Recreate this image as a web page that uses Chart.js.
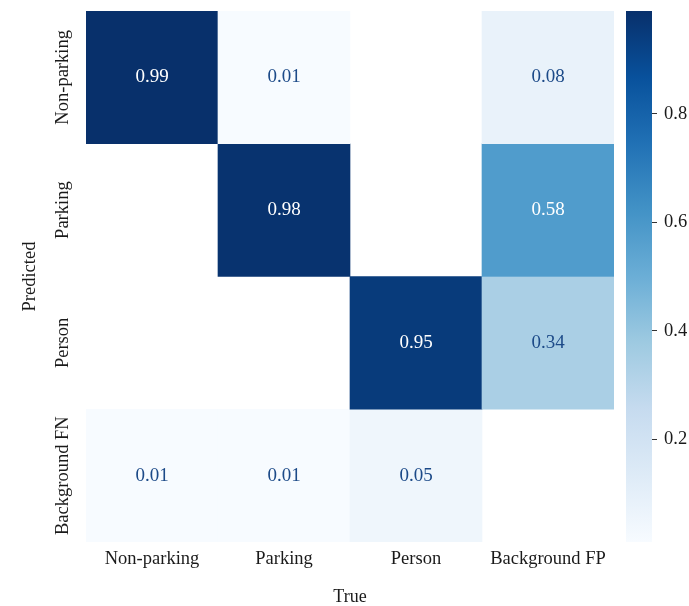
<!DOCTYPE html>
<html>
<head>
<meta charset="utf-8">
<script src="https://cdn.jsdelivr.net/npm/chart.js@4"></script>
<style>
  html, body { margin: 0; padding: 0; background: #fff; overflow: hidden; }
  body { width: 689px; height: 606px; position: relative; }
  #cm { position: absolute; left: 0; top: 0; }
  #cbar { position: absolute; left: 620px; top: 0; }
</style>
</head>
<body>
<canvas id="cm" width="622" height="606"></canvas>
<canvas id="cbar" width="100" height="606"></canvas>
<script>
// confusion matrix (rows = predicted, cols = true)
const trueLabels = ["Non-parking", "Parking", "Person", "Background FP"];
const predictedLabels = ["Non-parking", "Parking", "Person", "Background FN"];
const rowNonParking = [0.99, 0.01, 0, 0.08];
const rowParking = [0, 0.98, 0, 0.58];
const rowPerson = [0, 0, 0.95, 0.34];
const rowBackgroundFN = [0.01, 0.01, 0.05, 0];
const colorbarTicks = [0.2, 0.4, 0.6, 0.8];

const rows = [rowNonParking, rowParking, rowPerson, rowBackgroundFN];
const shown = rows.flat().filter(v => v > 0);
const vmax = Math.max(...shown);
const vmin = Math.min(...shown);

const serif = "'Liberation Serif', 'Times New Roman', serif";
const textDark = "#1a1a1a";

// matplotlib Blues
const blues = [[247,251,255],[222,235,247],[198,219,239],[158,202,225],[107,174,214],
               [66,146,198],[33,113,181],[8,81,156],[8,48,107]];

function blueRGB(t) {
  t = Math.max(0, Math.min(1, t));
  const p = t * 8;
  const i = Math.min(7, Math.floor(p));
  const f = p - i;
  return blues[i].map((c, k) => c + (blues[i + 1][k] - c) * f);
}
const norm = v => (v - vmin) / (vmax - vmin);
function cellColor(v) {
  const c = blueRGB(norm(v));
  return `rgb(${c.map(Math.round).join(",")})`;
}
function isDark(v) {
  const c = blueRGB(norm(v)).map(x => {
    x /= 255;
    return x <= 0.03928 ? x / 12.92 : Math.pow((x + 0.055) / 1.055, 2.4);
  });
  return 0.2126 * c[0] + 0.7152 * c[1] + 0.0722 * c[2] < 0.408;
}

const cellText = {
  id: "cellText",
  afterDatasetsDraw(chart) {
    const ctx = chart.ctx;
    ctx.save();
    ctx.font = "19px " + serif;
    ctx.textAlign = "center";
    ctx.textBaseline = "middle";
    chart.data.datasets.forEach((ds, r) => {
      chart.getDatasetMeta(r).data.forEach((bar, c) => {
        const v = rows[r][c];
        if (!v) return;
        ctx.fillStyle = isDark(v) ? "#ffffff" : "#1c4a88";
        ctx.fillText(v.toFixed(2), bar.x, (bar.y + bar.base) / 2);
      });
    });
    ctx.restore();
  }
};

const yLabels = {
  id: "yLabels",
  afterDraw(chart) {
    const ys = chart.scales.y;
    const ctx = chart.ctx;
    ctx.save();
    ctx.font = "18.5px " + serif;
    ctx.fillStyle = textDark;
    ctx.textAlign = "center";
    ctx.textBaseline = "middle";
    predictedLabels.forEach((lab, i) => {
      ctx.save();
      ctx.translate(ys.right - 23, ys.getPixelForValue(i + 0.5));
      ctx.rotate(-Math.PI / 2);
      ctx.fillText(lab, 0, 0);
      ctx.restore();
    });
    ctx.restore();
  }
};

new Chart(document.getElementById("cm"), {
  type: "bar",
  data: {
    labels: trueLabels,
    datasets: rows.map((vals, r) => ({
      label: predictedLabels[r],
      data: vals.map(v => v > 0 ? [r, r + 1] : null),
      backgroundColor: vals.map(cellColor),
      borderWidth: 0,
      barPercentage: 1,
      categoryPercentage: 1,
      grouped: false
    }))
  },
  options: {
    responsive: false,
    animation: false,
    layout: { padding: { top: 11, right: 8, left: 0, bottom: 0 } },
    plugins: { legend: { display: false }, tooltip: { enabled: false } },
    scales: {
      x: {
        grid: { display: false, drawTicks: false },
        border: { display: false },
        ticks: { font: { family: serif, size: 18.5 }, color: textDark, padding: 6, maxRotation: 0 },
        title: { display: true, text: "True", font: { family: serif, size: 18, lineHeight: 1 }, color: textDark, padding: 0 },
        afterFit: s => { s.height = 64; }
      },
      y: {
        min: 0, max: 4, reverse: true,
        grid: { display: false },
        border: { display: false },
        ticks: { display: false },
        title: { display: true, text: "Predicted", font: { family: serif, size: 18.5 }, color: textDark, padding: { top: 19, bottom: 0 } },
        afterFit: s => { s.width = 86; }
      }
    }
  },
  plugins: [cellText, yLabels]
});

// colorbar
new Chart(document.getElementById("cbar"), {
  type: "bar",
  data: {
    labels: [""],
    datasets: [{
      data: [[vmin, vmax]],
      backgroundColor: ctx => {
        const chart = ctx.chart;
        if (!chart.chartArea) return "#fff";
        const ys = chart.scales.y;
        const g = chart.ctx.createLinearGradient(0, ys.getPixelForValue(vmin), 0, ys.getPixelForValue(vmax));
        blues.forEach((c, i) => g.addColorStop(i / 8, `rgb(${c.join(",")})`));
        return g;
      },
      borderWidth: 0,
      barPercentage: 1,
      categoryPercentage: 1
    }]
  },
  options: {
    responsive: false,
    animation: false,
    layout: { padding: { left: 6, top: 11, bottom: 64, right: 0 } },
    plugins: { legend: { display: false }, tooltip: { enabled: false } },
    scales: {
      x: { display: false },
      y: {
        position: "right",
        min: vmin, max: vmax,
        afterBuildTicks: s => { s.ticks = colorbarTicks.map(v => ({ value: v })); },
        ticks: { font: { family: serif, size: 18.5 }, color: textDark, padding: 7, callback: v => v.toFixed(1) },
        grid: { drawOnChartArea: false, tickLength: 5, color: "#333" },
        border: { display: false },
        afterFit: s => { s.width = 68; s.paddingTop = 0; s.paddingBottom = 0; }
      }
    }
  }
});
</script>
</body>
</html>
